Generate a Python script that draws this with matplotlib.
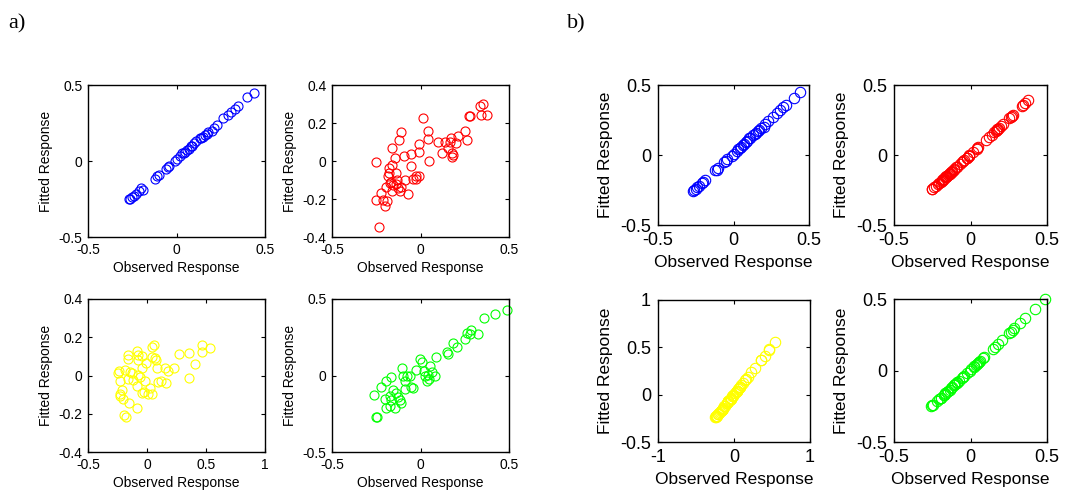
import matplotlib
matplotlib.use('Agg')
import matplotlib.pyplot as plt

plt.rcParams['font.family'] = ['Liberation Sans', 'DejaVu Sans']
plt.rcParams['axes.unicode_minus'] = False

# observed vs fitted responses
blue_obs = [-0.27, -0.26, -0.25, -0.24, -0.23, -0.20, -0.19, -0.12, -0.11, -0.10, -0.05, -0.04, -0.01, 0.00,
            0.02, 0.03, 0.05, 0.06, 0.07, 0.08, 0.10, 0.13, 0.15, 0.16, 0.17, 0.20, 0.21, 0.23, 0.26, 0.29,
            0.31, 0.33, 0.35, 0.40, 0.44, -0.21, -0.06, 0.04, 0.09, 0.11, 0.14, 0.18]
blue_fit_a = [-0.25, -0.25, -0.24, -0.23, -0.22, -0.18, -0.19, -0.12, -0.10, -0.09, -0.04, -0.03, 0.00, 0.01,
              0.03, 0.05, 0.06, 0.07, 0.08, 0.10, 0.12, 0.15, 0.16, 0.17, 0.18, 0.20, 0.22, 0.24, 0.28, 0.30,
              0.32, 0.34, 0.36, 0.42, 0.45, -0.20, -0.05, 0.05, 0.10, 0.13, 0.15, 0.19]
blue_fit_b = [-0.26, -0.25, -0.24, -0.23, -0.22, -0.19, -0.18, -0.11, -0.11, -0.09, -0.04, -0.03, -0.01, 0.01,
              0.03, 0.04, 0.06, 0.07, 0.08, 0.09, 0.12, 0.14, 0.16, 0.17, 0.18, 0.20, 0.22, 0.24, 0.27, 0.30,
              0.32, 0.34, 0.36, 0.41, 0.45, -0.20, -0.05, 0.05, 0.10, 0.12, 0.15, 0.19]

red_obs = [-0.252, -0.237, -0.249, -0.224, -0.203, -0.188, -0.212, -0.194, -0.184, -0.175, -0.165, -0.180,
           -0.161, -0.146, -0.159, -0.123, -0.110, -0.137, -0.156, -0.140, -0.127, -0.159, -0.108, -0.133,
           -0.093, -0.055, -0.051, -0.070, -0.089, -0.042, -0.023, -0.008, -0.025, -0.009, -0.009, 0.015,
           0.044, 0.040, 0.049, 0.101, 0.120, 0.139, 0.154, 0.167, 0.171, 0.180, 0.186, 0.176, 0.199, 0.214,
           0.252, 0.264, 0.273, 0.279, 0.338, 0.355, 0.342, 0.376, -0.178, -0.118]
red_fit_a = [-0.004, -0.346, -0.204, -0.167, -0.235, -0.212, -0.205, -0.135, -0.077, -0.118, -0.109, -0.039,
             -0.021, 0.018, 0.070, 0.111, 0.154, -0.065, -0.126, -0.123, -0.144, -0.158, -0.135, -0.100,
             0.026, -0.026, 0.035, -0.174, -0.100, -0.095, -0.096, -0.077, -0.077, 0.089, 0.049, 0.225,
             0.160, 0.114, 0.002, 0.098, 0.044, 0.098, 0.067, 0.098, 0.119, 0.040, 0.032, 0.023, 0.093, 0.133,
             0.160, 0.111, 0.239, 0.237, 0.289, 0.298, 0.242, 0.242, -0.065, -0.160]
red_fit_b = [-0.245, -0.232, -0.243, -0.220, -0.198, -0.185, -0.206, -0.190, -0.178, -0.170, -0.160, -0.176,
             -0.155, -0.141, -0.153, -0.118, -0.104, -0.133, -0.150, -0.136, -0.121, -0.156, -0.103, -0.128,
             -0.088, -0.050, -0.046, -0.066, -0.085, -0.037, -0.018, -0.004, -0.021, -0.003, -0.005, 0.021,
             0.050, 0.046, 0.055, 0.108, 0.126, 0.146, 0.161, 0.174, 0.177, 0.187, 0.192, 0.183, 0.206, 0.221,
             0.262, 0.273, 0.282, 0.289, 0.351, 0.368, 0.356, 0.390, -0.173, -0.112]

yel_obs = [-0.162, -0.162, -0.087, -0.073, -0.045, -0.073, -0.008, 0.039, 0.056, 0.064, 0.078, 0.039,
           -0.241, -0.246, -0.185, -0.143, -0.162, -0.232, -0.045, -0.073, -0.059, -0.017, -0.087, -0.022,
           0.025, -0.045, 0.039, 0.011, -0.213, -0.232, -0.227, -0.204, -0.151, -0.081, -0.199, -0.176,
           0.081, 0.151, 0.179, 0.230, 0.095, 0.118, 0.160, 0.272, 0.356, 0.403, 0.356, 0.465, 0.465, 0.538,
           -0.129, -0.121]
yel_fit_a = [0.107, 0.086, 0.129, 0.107, 0.104, 0.081, 0.067, 0.151, 0.160, 0.090, 0.083, 0.099,
             0.023, 0.011, 0.028, 0.019, -0.016, -0.030, 0.040, 0.002, -0.007, -0.030, -0.055, -0.086,
             -0.065, -0.090, -0.095, -0.095, -0.077, -0.095, -0.107, -0.121, -0.143, -0.171, -0.206, -0.218,
             0.037, 0.040, 0.023, 0.037, -0.033, -0.030, -0.037, 0.111, 0.116, 0.060, -0.012, 0.157, 0.121,
             0.146, 0.011, -0.025]
yel_fit_b = [-0.158, -0.160, -0.083, -0.070, -0.041, -0.069, -0.004, 0.043, 0.060, 0.068, 0.082, 0.041,
             -0.236, -0.240, -0.180, -0.139, -0.157, -0.228, -0.043, -0.071, -0.055, -0.014, -0.085, -0.019,
             0.028, -0.040, 0.042, 0.014, -0.209, -0.226, -0.224, -0.200, -0.147, -0.078, -0.195, -0.172,
             0.086, 0.157, 0.185, 0.236, 0.099, 0.123, 0.166, 0.280, 0.366, 0.413, 0.364, 0.476, 0.478, 0.552,
             -0.125, -0.118]

grn_obs = [-0.251, -0.247, -0.260, -0.222, -0.194, -0.165, -0.203, -0.194, -0.175, -0.146, -0.156, -0.137,
           -0.127, -0.118, -0.108, -0.165, -0.175, -0.105, -0.099, -0.086, -0.089, -0.074, -0.057, -0.042,
           -0.051, -0.023, -0.004, 0.006, 0.021, 0.025, 0.034, 0.048, 0.053, 0.063, 0.082, 0.087, 0.148,
           0.158, 0.181, 0.205, 0.253, 0.262, 0.287, 0.278, 0.323, 0.357, 0.420, 0.490, 0.040]
grn_fit_a = [-0.268, -0.274, -0.125, -0.075, -0.037, -0.011, -0.154, -0.213, -0.202, -0.213, -0.092, -0.114,
             -0.140, -0.158, -0.180, -0.158, -0.136, 0.050, -0.004, -0.037, -0.088, 0.000, 0.000, -0.081,
             -0.075, 0.039, 0.105, 0.088, 0.029, 0.000, -0.037, -0.022, 0.061, 0.022, -0.004, 0.123, 0.156,
             0.143, 0.211, 0.189, 0.241, 0.281, 0.298, 0.270, 0.270, 0.373, 0.401, 0.428, 0.002]
grn_fit_b = [-0.243, -0.240, -0.249, -0.216, -0.189, -0.160, -0.198, -0.190, -0.171, -0.142, -0.151, -0.133,
             -0.122, -0.114, -0.104, -0.161, -0.170, -0.100, -0.095, -0.082, -0.086, -0.070, -0.053, -0.039,
             -0.047, -0.019, 0.000, 0.010, 0.025, 0.029, 0.038, 0.052, 0.058, 0.067, 0.087, 0.092, 0.153,
             0.163, 0.187, 0.211, 0.260, 0.270, 0.295, 0.286, 0.332, 0.367, 0.432, 0.501, 0.044]

fig = plt.figure(figsize=(10.67, 4.94), dpi=100)
W, H = 1067.0, 494.0


def panel(px, xs, ys, color, xlim, xticks, ylim, yticks, fs, tfs, ms, pad):
    x0, x1, y0, y1 = px
    ax = fig.add_axes([x0 / W, (H - y1) / H, (x1 - x0) / W, (y1 - y0) / H])
    ax.plot(xs, ys, 'o', mfc='none', mec=color, ms=ms, mew=0.8, clip_on=False)
    ax.set_xlim(xlim)
    ax.set_ylim(ylim)
    ax.set_xticks(xticks)
    ax.set_yticks(yticks)
    ax.set_xticklabels(['%g' % t for t in xticks])
    ax.set_yticklabels(['%g' % t for t in yticks])
    ax.tick_params(direction='in', top=True, right=True, length=3, width=0.8,
                   labelsize=tfs, pad=pad)
    for s in ax.spines.values():
        s.set_linewidth(1.0)
    ax.set_xlabel('Observed Response', fontsize=fs, labelpad=pad - 1)
    ax.set_ylabel('Fitted Response', fontsize=fs, labelpad=pad)
    return ax


h5 = [-0.5, 0, 0.5]
h4 = [-0.4, -0.2, 0, 0.2, 0.4]

# a) panels
panel((88, 265, 85, 237), blue_obs, blue_fit_a, 'blue', (-0.5, 0.5), h5, (-0.5, 0.5), h5, 10, 10, 6.5, 4)
panel((332, 509, 85, 237), red_obs, red_fit_a, 'red', (-0.5, 0.5), h5, (-0.4, 0.4), h4, 10, 10, 6.5, 4)
panel((88, 265, 299, 452), yel_obs, yel_fit_a, 'yellow', (-0.5, 1), [-0.5, 0, 0.5, 1], (-0.4, 0.4), h4, 10, 10, 6.5, 4)
panel((332, 509, 299, 452), grn_obs, grn_fit_a, 'lime', (-0.5, 0.5), h5, (-0.5, 0.5), h5, 10, 10, 6.5, 4)

# b) panels
panel((658, 809, 85, 225), blue_obs, blue_fit_b, 'blue', (-0.5, 0.5), h5, (-0.5, 0.5), h5, 12.5, 13, 7.5, 5)
panel((894, 1047, 85, 225), red_obs, red_fit_b, 'red', (-0.5, 0.5), h5, (-0.5, 0.5), h5, 12.5, 13, 7.5, 5)
panel((658, 810, 300, 442), yel_obs, yel_fit_b, 'yellow', (-1, 1), [-1, 0, 1], (-0.5, 1), [-0.5, 0, 0.5, 1], 12.5, 13, 7.5, 5)
panel((894, 1047, 299, 442), grn_obs, grn_fit_b, 'lime', (-0.5, 0.5), h5, (-0.5, 0.5), h5, 12.5, 13, 7.5, 5)

fig.text(8 / W, 1 - 28 / H, 'a)', fontsize=16, family='Liberation Serif')
fig.text(567 / W, 1 - 28 / H, 'b)', fontsize=16, family='Liberation Serif')

fig.savefig('out.png', dpi=100)
